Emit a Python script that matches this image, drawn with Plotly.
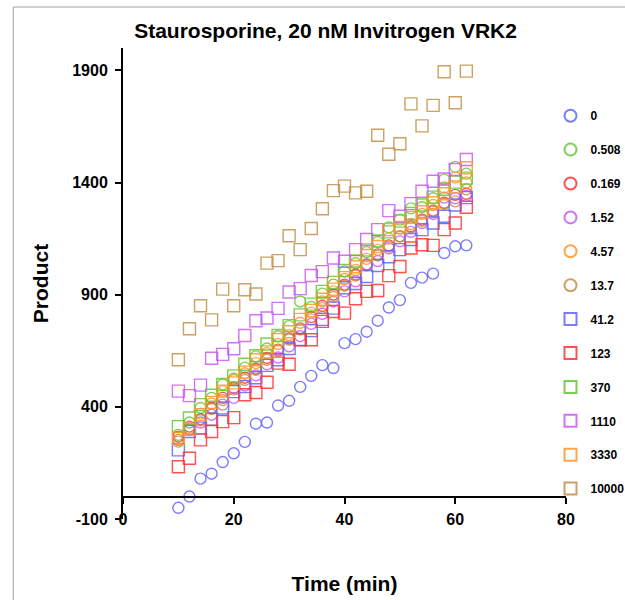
import plotly.graph_objects as go

time_min = [10, 12, 14, 16, 18, 20, 22, 24, 26, 28, 30, 32, 34, 36, 38, 40,
            42, 44, 46, 48, 50, 52, 54, 56, 58, 60, 62]

conc_labels = ["0", "0.508", "0.169", "1.52", "4.57", "13.7",
               "41.2", "123", "370", "1110", "3330", "10000"]

x_ticks = [0, 20, 40, 60, 80]
y_ticks = [-100, 400, 900, 1400, 1900]
y_tick_text = ["-100", "400", "900", "1400", "1900"]

p_0 = [-50, 0, 80, 102, 154, 193, 244, 325, 330, 406, 427, 489, 538, 586, 573,
       684, 702, 735, 784, 843, 876, 953, 976, 994, 1086, 1116, 1120]
p_0508 = [275, 330, 395, 440, 500, 525, 575, 625, 660, 715, 760, 870, 845, 905,
          945, 1004, 1040, 1090, 1135, 1200, 1235, 1285, 1290, 1330, 1413, 1470, 1440]
p_0169 = [267, 312, 345, 395, 440, 485, 530, 570, 618, 655, 705, 750, 800, 850,
          900, 945, 990, 1035, 1080, 1120, 1160, 1205, 1235, 1275, 1310, 1345, 1350]
p_152 = [253, 297, 330, 365, 410, 440, 495, 540, 590, 620, 670, 715, 770, 815,
         870, 915, 960, 1034, 1050, 1107, 1138, 1180, 1220, 1260, 1333, 1330, 1340]
p_457 = [253, 305, 370, 415, 470, 520, 550, 595, 640, 680, 720, 775, 820, 870,
         915, 970, 1010, 1060, 1100, 1150, 1195, 1215, 1260, 1300, 1378, 1422, 1400]
p_137 = [245, 300, 340, 390, 430, 478, 520, 565, 610, 650, 700, 745, 790, 840,
         890, 940, 985, 1030, 1075, 1115, 1160, 1200, 1230, 1270, 1305, 1316, 1370]
p_412 = [208, 290, 305, 345, 395, 468, 490, 530, 585, 610, 660, 700, 740, 790,
         840, 931, 950, 981, 1030, 1069, 1101, 1146, 1190, 1220, 1250, 1300, 1333]
p_123 = [133, 171, 253, 290, 334, 352, 454, 464, 510, 595, 590, 699, 699, 781,
         825, 818, 882, 915, 919, 985, 1026, 1108, 1123, 1120, 1190, 1220, 1290]
p_370 = [312, 350, 410, 452, 500, 538, 590, 628, 680, 718, 762, 810, 858, 915,
         955, 1008, 1050, 1100, 1140, 1180, 1228, 1262, 1300, 1335, 1370, 1402, 1420]
p_1110 = [470, 450, 497, 617, 634, 659, 718, 784, 796, 839, 912, 927, 986, 1003,
          1064, 1049, 1101, 1146, 1190, 1275, 1250, 1306, 1361, 1406, 1416, 1458, 1503]
p_3330 = [260, 300, 365, 420, 470, 507, 555, 610, 645, 700, 735, 790, 830, 880,
          925, 976, 1025, 1075, 1115, 1190, 1200, 1245, 1270, 1310, 1350, 1380, 1466]
p_10000 = [610, 748, 851, 788, 925, 851, 922, 903, 1041, 1052, 1163, 1101, 1195,
           1283, 1364, 1384, 1354, 1361, 1611, 1526, 1573, 1751, 1653, 1744, 1894,
           1756, 1897]

series = [p_0, p_0508, p_0169, p_152, p_457, p_137,
          p_412, p_123, p_370, p_1110, p_3330, p_10000]

blue = "rgba(100,100,255,0.85)"
green = "rgba(100,200,50,0.85)"
red = "rgba(255,50,50,0.85)"
purple = "rgba(200,90,245,0.85)"
orange = "rgba(255,150,45,0.85)"
brown = "rgba(195,145,70,0.85)"
colors = [blue, green, red, purple, orange, brown,
          blue, red, green, purple, orange, brown]
symbols = ["circle-open"] * 6 + ["square-open"] * 6

fig = go.Figure()
for i, (lab, vals) in enumerate(zip(conc_labels, series)):
    fig.add_trace(go.Scatter(
        x=time_min, y=vals, mode="markers", name=lab, legendgroup=lab,
        marker=dict(symbol=symbols[i], size=11 if i < 6 else 12,
                    color=colors[i], line=dict(color=colors[i], width=1.4)),
    ))

font_family = "Liberation Sans, Arial, sans-serif"

fig.update_layout(
    width=625, height=600,
    margin=dict(l=123, r=59, t=48, b=81, autoexpand=False),
    paper_bgcolor="white", plot_bgcolor="white",
    font=dict(family=font_family, color="black"),
    title=dict(text="<b>Staurosporine, 20 nM Invitrogen VRK2</b>",
               x=(326 - 123) / 444, xanchor="center", xref="paper",
               y=1 - 31 / 600, yanchor="middle",
               font=dict(size=21, family=font_family, color="black")),
    showlegend=True,
    legend=dict(x=0.965, xanchor="left", y=0.887, yanchor="top",
                traceorder="grouped", tracegroupgap=14.9,
                font=dict(size=12, family=font_family, color="black", weight="bold"),
                bgcolor="rgba(0,0,0,0)", itemsizing="constant", itemwidth=30),
    xaxis=dict(range=[0, 80], tickvals=x_ticks, automargin=False,
               showgrid=False, zeroline=False, showline=True,
               linecolor="black", linewidth=2, ticks="outside", ticklen=6,
               tickwidth=2, tickcolor="black",
               anchor="free", position=100 / 2100,
               ticklabelstandoff=2,
               tickfont=dict(size=16, family=font_family, weight="bold"),
               title=dict(text="<b>Time (min)</b>", standoff=49,
                          font=dict(size=21, family=font_family))),
    yaxis=dict(range=[-100, 2000], tickvals=y_ticks, ticktext=y_tick_text,
               automargin=False, ticklabelstandoff=4,
               showgrid=False, zeroline=False, showline=True,
               linecolor="black", linewidth=2, ticks="outside", ticklen=6,
               tickwidth=2, tickcolor="black",
               tickfont=dict(size=16, family=font_family, weight="bold"),
               title=dict(text="<b>Product</b>", standoff=18,
                          font=dict(size=21, family=font_family))),
    shapes=[dict(type="rect", xref="paper", yref="paper",
                 x0=(13 - 123) / 444, x1=(640 - 123) / 444,
                 y0=(519 - 620) / 471, y1=(519 - 7) / 471,
                 line=dict(color="#a0a0a0", width=1), layer="below")],
)

fig.write_html("out.html", config={"displayModeBar": False},
               post_script="document.body.style.margin='0';document.body.style.padding='0';")
